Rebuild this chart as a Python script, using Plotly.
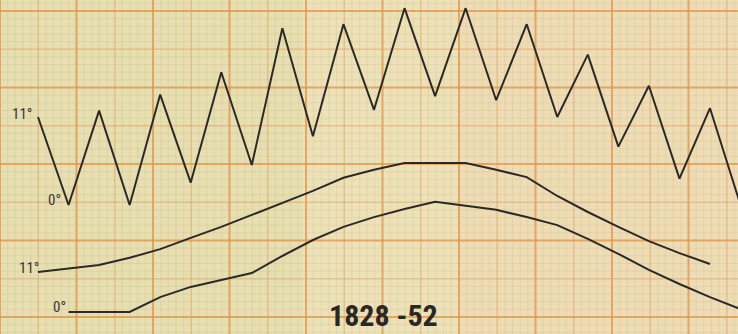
import plotly.graph_objects as go

# ---- data ----
years = list(range(1828, 1852))
# yearly oscillating series (degrees on the upper scale)
zigzag = [11.0, 0.0, 11.8, 0.0, 13.8, 2.8, 16.6, 5.0, 22.1, 8.6, 22.6, 11.9,
          24.6, 13.6, 24.6, 13.1, 22.6, 11.0, 18.8, 7.3, 14.9, 3.3, 12.1, 0.0]
# smoothed curves (degrees on the lower scale)
upper_years = list(range(1828, 1851))
upper_curve = [11.0, 12.0, 12.9, 14.9, 17.3, 20.4, 23.4, 26.7, 30.0, 33.3, 36.9, 39.1,
               41.0, 41.0, 41.0, 39.1, 37.1, 31.9, 27.5, 23.4, 19.5, 16.2, 13.2]
lower_years = list(range(1829, 1852))
lower_curve = [0.0, 0.0, 0.0, 4.1, 6.9, 8.8, 10.7, 15.4, 19.8, 23.4, 26.1, 28.3,
               30.3, 29.2, 28.1, 26.1, 23.9, 20.1, 16.0, 11.6, 7.7, 4.1, 0.8]
title_text = "1828 -52"
labels_top = ["11°", "0°"]
labels_bottom = ["11°", "0°"]

W, H = 738, 334
ink = "#2b2a26"
strong = "rgba(226,150,75,0.78)"
medium = "rgba(226,160,95,0.50)"
fine = "rgba(222,172,115,0.26)"
narrow = ("Roboto Condensed, Open Sans Condensed, Noto Sans Condensed, "
          "Liberation Sans Narrow, DejaVu Sans Condensed, sans-serif")

fig = go.Figure()

fig.add_trace(go.Scatter(x=years, y=zigzag, mode="lines",
                         line=dict(color=ink, width=2), hoverinfo="skip"))
fig.add_trace(go.Scatter(x=upper_years, y=upper_curve, mode="lines", yaxis="y2",
                         line=dict(color=ink, width=2), hoverinfo="skip"))
fig.add_trace(go.Scatter(x=lower_years, y=lower_curve, mode="lines", yaxis="y2",
                         line=dict(color=ink, width=2), hoverinfo="skip"))

shapes = []
# paper tone variations
shapes.append(dict(type="rect", xref="paper", yref="paper", x0=0, x1=0.41, y0=0, y1=1,
                   fillcolor="rgba(190,205,140,0.14)", line_width=0, layer="below"))
shapes.append(dict(type="rect", xref="paper", yref="paper", x0=0.62, x1=1, y0=0, y1=1,
                   fillcolor="rgba(245,195,160,0.13)", line_width=0, layer="below"))

# graph-paper grid (decoration): fine every 7.65 px, medium every 38.25, strong every 76.5
step = 7.65
i = 0
while i * step <= W + 1:
    px = i * step
    col, wd = (strong, 2) if i % 10 == 0 else ((medium, 1.5) if i % 5 == 0 else (fine, 1))
    shapes.append(dict(type="line", xref="paper", yref="paper", x0=px / W, x1=px / W,
                       y0=0, y1=1, line=dict(color=col, width=wd), layer="below"))
    i += 1
j = -2
while 11 + j * step <= H + 1:
    py = 11 + j * step
    if py >= 0:
        col, wd = (strong, 2) if j % 10 == 0 else ((medium, 1.5) if j % 5 == 0 else (fine, 1))
        shapes.append(dict(type="line", xref="paper", yref="paper", x0=0, x1=1,
                           y0=1 - py / H, y1=1 - py / H, line=dict(color=col, width=wd),
                           layer="below"))
    j += 1

fig.update_layout(
    width=W, height=H,
    margin=dict(l=0, r=0, t=0, b=0),
    paper_bgcolor="#ece2b9",
    plot_bgcolor="#ece2b9",
    showlegend=False,
    shapes=shapes,
    xaxis=dict(range=[1828 - 38 / 30.545, 1828 + 700 / 30.545], visible=False,
               showgrid=False, zeroline=False),
    yaxis=dict(range=[-16.125, 25.625], visible=False, showgrid=False, zeroline=False),
    yaxis2=dict(range=[-6.05, 85.8], overlaying="y", visible=False, showgrid=False,
                zeroline=False),
)

lab_font = dict(family=narrow, size=15, color="#3a3833")
annots = [
    (labels_top[0], 22, 114),
    (labels_top[1], 54, 200),
    (labels_bottom[0], 29, 268),
    (labels_bottom[1], 59, 307),
]
for t, px, py in annots:
    fig.add_annotation(text=t, x=px / W, y=1 - py / H, xref="paper", yref="paper",
                       showarrow=False, font=lab_font, xanchor="center", yanchor="middle")

fig.add_annotation(text="<b>" + title_text + "</b>", x=383 / W, y=1 - 315 / H,
                   xref="paper", yref="paper", showarrow=False,
                   font=dict(family=narrow, size=30, color="#2a2724"),
                   xanchor="center", yanchor="middle")

fig.write_html("out.html", config={"displayModeBar": False},
               post_script="document.body.style.margin='0';")
